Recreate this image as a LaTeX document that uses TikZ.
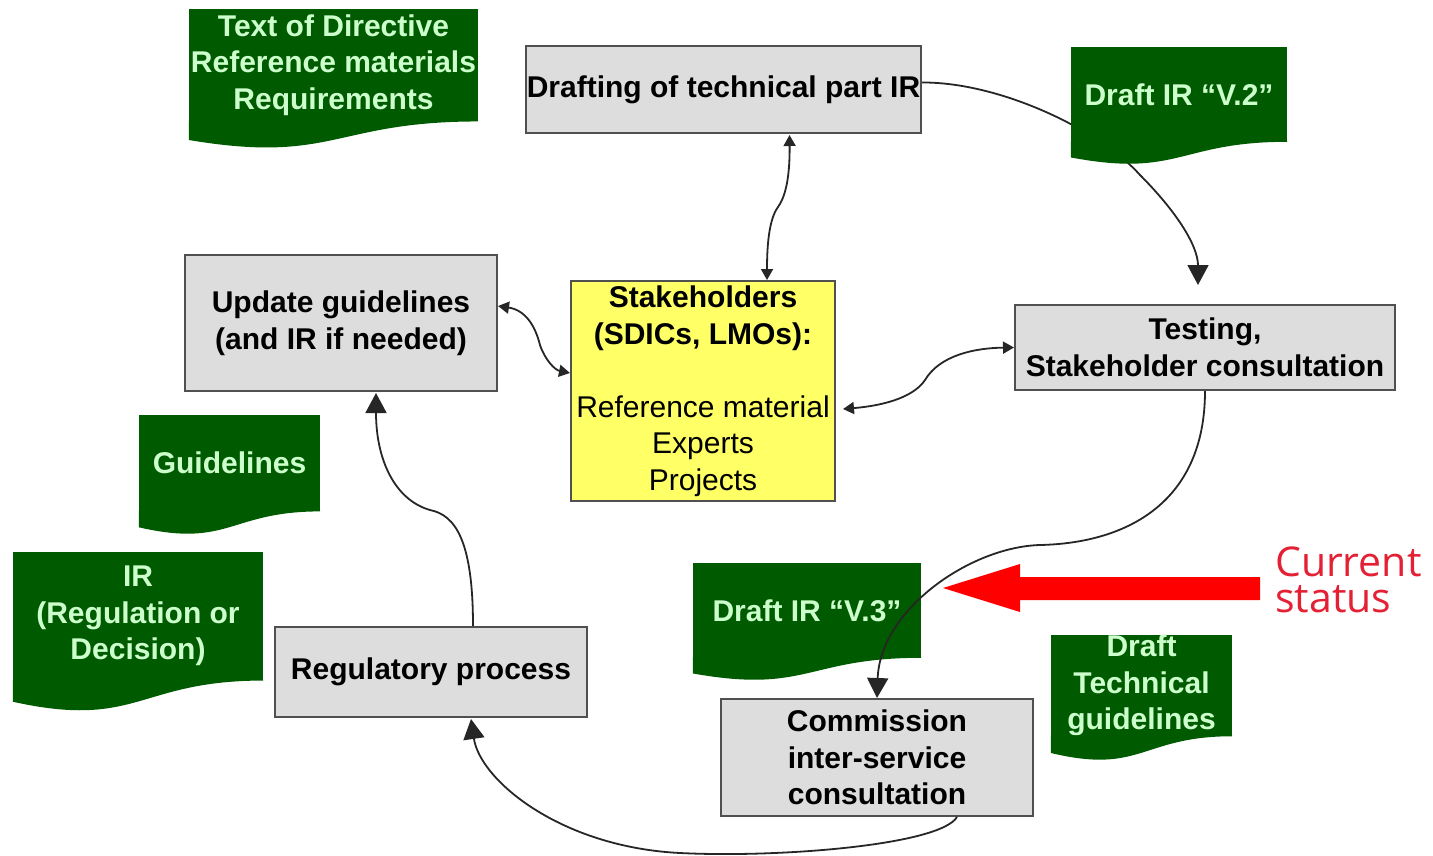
\documentclass[tikz,border=0pt]{standalone}
\usepackage{fontspec}
\setmainfont{Liberation Sans}
\newfontfamily\curfont{Open Sans}
\usetikzlibrary{arrows.meta,calc}
\definecolor{docgreen}{RGB}{0,90,0}
\definecolor{doctext}{RGB}{204,255,204}
\definecolor{boxgrey}{RGB}{221,221,221}
\definecolor{boxline}{RGB}{80,80,80}
\definecolor{stakeyellow}{RGB}{255,255,102}
\definecolor{curred}{RGB}{228,32,52}
\definecolor{bigred}{RGB}{255,0,0}
\tikzset{
  greybox/.style={draw=boxline, line width=2pt, fill=boxgrey, inner sep=0pt, align=center,
    font=\fontsize{30}{36.5}\selectfont\bfseries},
  docbox/.style={fill=docgreen, inner sep=0pt, align=center, text=doctext,
    font=\fontsize{30}{36.5}\selectfont\bfseries},
  conn/.style={draw=black!85, line width=1.8pt},
  bigtip/.style={-{Triangle[length=20pt,width=21pt]}},
  twotip/.style={{Triangle[length=11pt,width=12pt]}-{Triangle[length=11pt,width=12pt]}},
}
\newcommand{\docwave}[1]{%
  \fill[docgreen] let \p1=(#1.south west), \p2=(#1.north east), \n1={\y2-\y1} in
    ({\x2},{\y1+0.8pt}) -- ({\x2},{\y1})
    .. controls ({(\x1+\x2)/2},{\y1}) and ({(\x1+\x2)/2},{\y1-0.38*\n1}) ..
    ({\x1},{\y1-0.1646*\n1}) -- ({\x1},{\y1+0.8pt}) -- cycle;}
\begin{document}
\begin{tikzpicture}[x=1pt,y=-1pt]
\useasboundingbox (0,0) rectangle (1433,855);
% process boxes
\node[greybox, minimum width=395pt, minimum height=87pt] (draft) at (723.5,89.5) {Drafting of technical part IR};
\node[greybox, minimum width=312pt, minimum height=136pt] (upd) at (341,323) {Update guidelines\\(and IR if needed)};
\node[greybox, fill=stakeyellow, minimum width=264pt, minimum height=220pt] (stake) at (703,391)
  {Stakeholders\\(SDICs, LMOs):\\[36.5pt]\mdseries Reference material\\\mdseries Experts\\\mdseries Projects};
\node[greybox, minimum width=380pt, minimum height=85pt] (test) at (1205,347.5) {Testing,\\Stakeholder consultation};
\node[greybox, minimum width=312pt, minimum height=90pt] (reg) at (431,672) {Regulatory process};
\node[greybox, minimum width=312pt, minimum height=117pt] (comm) at (877,757.5) {Commission\\inter-service\\consultation};
% connector passing behind Draft IR V.2
\coordinate (testin) at (1198,285);
\draw[conn, bigtip] ([yshift=7pt]draft.east) .. controls (1000,82) and (1100,130) .. (1140,175)
  .. controls (1175,210) and (1198,245) .. (testin);
% documents
\node[docbox, minimum width=289pt, minimum height=112.3pt] (tod) at (333.5,65.1) {Text of Directive\\Reference materials\\Requirements};
\docwave{tod}
\node[docbox, minimum width=216pt, minimum height=94.6pt] (v2) at (1179,94.3) {Draft IR “V.2”};
\docwave{v2}
\node[docbox, minimum width=181pt, minimum height=96.2pt] (gl) at (229.5,463.1) {Guidelines};
\docwave{gl}
\node[docbox, minimum width=250pt, minimum height=128.3pt] (ir) at (138,616.2) {IR\\(Regulation or\\Decision)};
\docwave{ir}
\node[docbox, minimum width=228pt, minimum height=94.6pt] (v3) at (807,610.3) {Draft IR “V.3”};
\docwave{v3}
\node[docbox, minimum width=181pt, minimum height=97pt] (dtg) at (1141.5,685.5) {Draft\\Technical\\guidelines};
\docwave{dtg}
% connectors
\draw[conn, bigtip] (test.south) .. controls (1205,500) and (1130,543) .. (1040,545)
  .. controls (970,547) and (880,610) .. (comm.north);
\draw[conn, bigtip] ([xshift=80pt]comm.south) .. controls (940,845) and (780,858) .. (680,853)
  .. controls (560,847) and (480,780) .. ([xshift=40pt,yshift=-1pt]reg.south);
\draw[conn, bigtip] ([xshift=42pt]reg.north) .. controls (473,540) and (455,515) .. (430,510)
  .. controls (395,500) and (376,460) .. ([xshift=35pt,yshift=-1pt]upd.south);
\draw[conn, twotip] ([xshift=66pt,yshift=-1pt]draft.south) .. controls (790,185) and (783,200) .. (778,207)
  .. controls (770,218) and (767,240) .. ([xshift=64pt]stake.north);
\draw[conn, twotip] ([yshift=17pt]upd.east) .. controls (525,310) and (535,325) .. (540,345)
  .. controls (545,360) and (555,370) .. ([yshift=18pt]stake.west);
\draw[conn, twotip] ([xshift=7pt,yshift=-18pt]stake.east) .. controls (890,405) and (915,395) .. (925,380)
  .. controls (940,355) and (975,348) .. (test.west);
% current status marker
\fill[bigred] (1260,577) -- (1020,577) -- (1020,564) -- (943,588) -- (1020,612) -- (1020,600) -- (1260,600) -- cycle;
\node[anchor=west, align=left, inner sep=0pt, text=curred, font=\curfont\fontsize{41}{36}\selectfont] (cur) at (1275,580) {Current\\status};
\end{tikzpicture}
\end{document}
